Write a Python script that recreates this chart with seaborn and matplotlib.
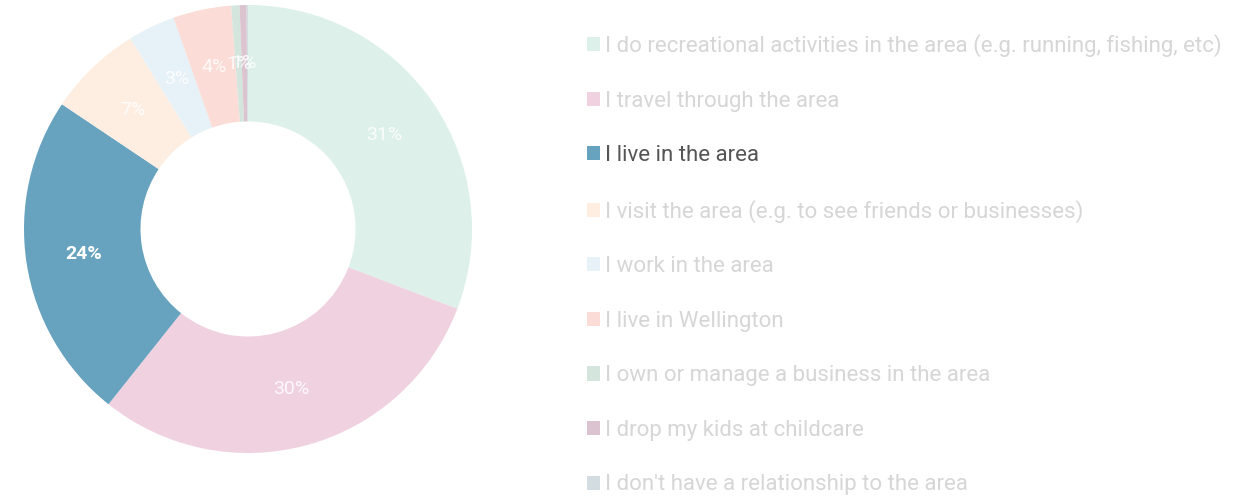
import matplotlib
matplotlib.use("Agg")
import matplotlib.pyplot as plt
import numpy as np
import seaborn as sns

categories = [
    "I do recreational activities in the area (e.g. running, fishing, etc)",
    "I travel through the area",
    "I live in the area",
    "I visit the area (e.g. to see friends or businesses)",
    "I work in the area",
    "I live in Wellington",
    "I own or manage a business in the area",
    "I drop my kids at childcare",
    "I don't have a relationship to the area",
]
values = [30.8, 29.9, 23.7, 6.8, 3.4, 4.2, 0.6, 0.5, 0.1]
pct_labels = ["31%", "30%", "24%", "7%", "3%", "4%", "1%", "1%", ""]
colors = ["#ddf0ea", "#f0d1e0", "#67a2bf", "#fdeee1", "#e7f2f8",
          "#fbdcd6", "#d3e5dc", "#dbc3d0", "#d3dce0"]
highlight = "I live in the area"

sns.set_theme(style="white")
plt.rcParams["font.family"] = ["Roboto", "DejaVu Sans"]

fig = plt.figure(figsize=(12.45, 5.01), dpi=100)
ax = fig.add_axes([24 / 1245, 48 / 501, 448 / 1245, 448 / 501])

wedges, _ = ax.pie(values, colors=colors, startangle=90, counterclock=False,
                   radius=1.0, wedgeprops=dict(width=0.52, linewidth=0))
for w, lab, cat in zip(wedges, pct_labels, categories):
    if not lab:
        continue
    ang = np.deg2rad((w.theta1 + w.theta2) / 2)
    r = 0.74
    ax.text(r * np.cos(ang), r * np.sin(ang), lab, ha="center", va="center",
            color="white", fontsize=14,
            fontweight="bold" if cat == highlight else "normal",
            alpha=1.0 if cat == highlight else 0.85)
ax.set_xlim(-1, 1)
ax.set_ylim(-1, 1)
ax.set_aspect("equal")
ax.axis("off")

leg = fig.legend(wedges, categories, loc="upper left",
                 bbox_to_anchor=(587 / 1245, 1 - 34 / 501),
                 frameon=False, fontsize=16, handlelength=0.6, handleheight=0.6,
                 handletextpad=0.2, labelspacing=1.51, borderaxespad=0,
                 borderpad=0)
for txt, cat in zip(leg.get_texts(), categories):
    txt.set_color("#555555" if cat == highlight else "#d6d6d6")

fig.savefig("out.png", dpi=100)
